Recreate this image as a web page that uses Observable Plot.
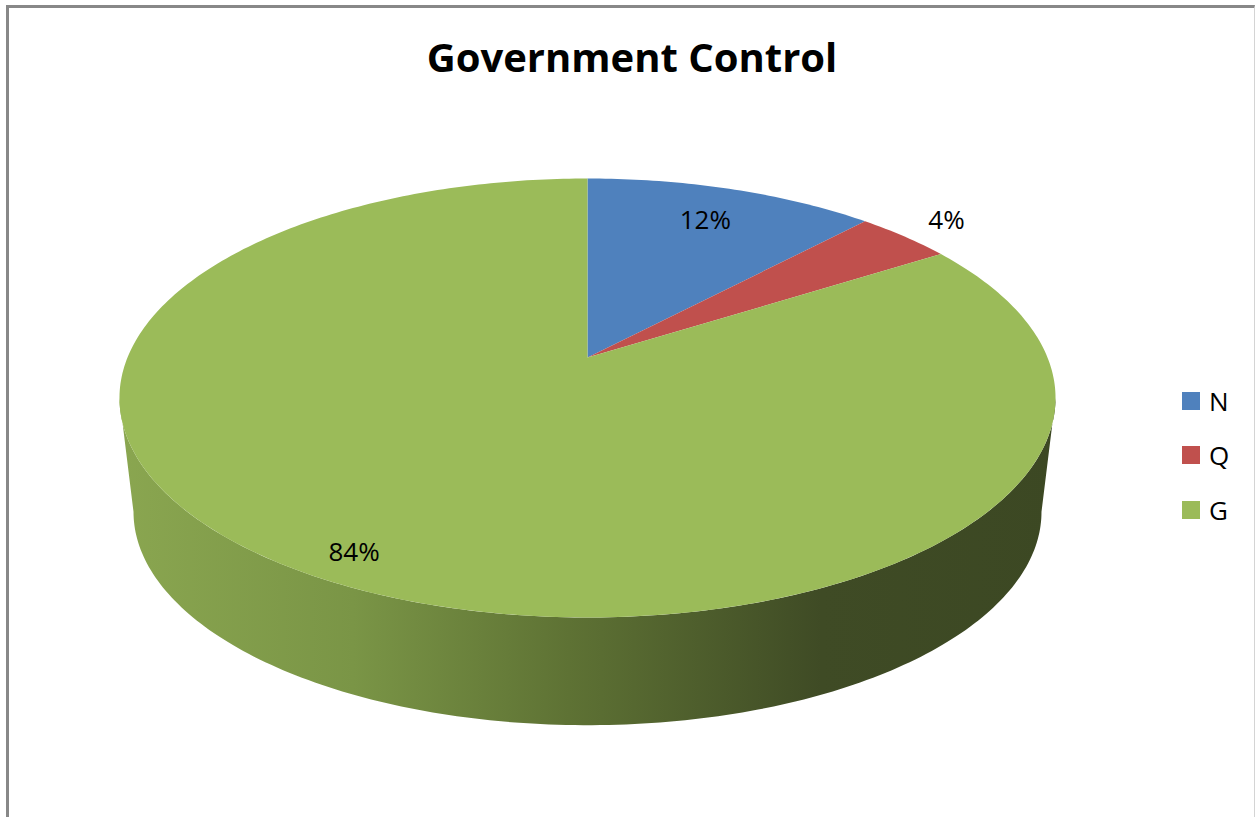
<!DOCTYPE html>
<html>
<head>
<meta charset="utf-8">
<script src="https://cdn.jsdelivr.net/npm/d3@7"></script>
<script src="https://cdn.jsdelivr.net/npm/@observablehq/plot@0.6"></script>
<style>
html, body { margin: 0; padding: 0; background: #fff; overflow: hidden; }
#wrap { position: relative; width: 1255px; height: 817px; overflow: hidden; }
#chart { position: absolute; left: 0; top: 0; }
#frame { position: absolute; left: 6px; top: 5px; width: 1249px; height: 900px; box-sizing: border-box;
  border-top: 3px solid #888; border-left: 3px solid #888; border-right: 1px solid #d4d4d4; pointer-events: none; }
#title { position: absolute; left: 0; width: 1264px; top: 37px; text-align: center;
  font-family: "Open Sans", sans-serif; font-weight: bold; font-size: 40px; line-height: 40px; color: #000; }
.leg { position: absolute; left: 1182px; height: 18px; display: flex; align-items: center;
  font-family: "Open Sans", sans-serif; font-size: 26px; line-height: 18px; color: #000; }
.leg .sw { width: 18px; height: 18px; margin-right: 9px; }
</style>
</head>
<body>
<div id="wrap">
  <div id="chart"></div>
  <div id="title"></div>
  <div id="legend"></div>
  <div id="frame"></div>
</div>
<script>
// ---- data ----
const title = "Government Control";
const categories = ["N", "Q", "G"];
const values = [12, 4, 84];
const labels = ["12%", "4%", "84%"];
// ---- style / layout ----
const colors = ["#4f81bd", "#c0504d", "#9bbb59"];
const labelRadius = [0.79, 1.15, 0.90];
const legendTops = [392, 446, 501];

// perspective of the tilted pie
const LAMBDA = 0.1845;
const BOTTOM = { sx: 0.97, sy: 0.972, dy: -0.5425 };
function proj(theta, r = 1, b = null) {
  const X = r * Math.sin(theta), Y = r * Math.cos(theta);
  const w = 1 + LAMBDA * Y;
  let u = X / w, v = Y / w;
  if (b) { u = b.sx * u; v = b.dy + b.sy * v; }
  return { u, v };
}
function arc(a0, a1, b = null) {
  const n = Math.max(2, Math.ceil(Math.abs(a1 - a0) / (2 * Math.PI) * 400));
  const pts = [];
  for (let i = 0; i <= n; i++) pts.push(proj(a0 + (a1 - a0) * i / n, 1, b));
  return pts;
}

const table = categories.map((c, i) => ({ key: c, value: values[i], label: labels[i] }));
const arcs = d3.pie().sort(null).value(d => d.value).startAngle(0).endAngle(2 * Math.PI)(table);

// top slices
const slicePts = [];
arcs.forEach(a => {
  slicePts.push({ key: a.data.key, ...proj(0, 0) });
  arc(a.startAngle, a.endAngle).forEach(p => slicePts.push({ key: a.data.key, ...p }));
});

// visible side wall (front)
const thR = Math.acos(-LAMBDA), thL = 2 * Math.PI - thR;
const sidePts = [...arc(thR, thL), ...arc(thL, thR, BOTTOM)];

// labels
const labelPts = arcs.map((a, i) => {
  const m = (a.startAngle + a.endAngle) / 2;
  return { label: a.data.label, ...proj(m, labelRadius[i]) };
});

const chart = Plot.plot({
  width: 1255, height: 817,
  marginLeft: 127, marginRight: 208, marginTop: 145, marginBottom: 248,
  x: { domain: [-1, 1], axis: null },
  y: { domain: [-1, 1], axis: null },
  color: { domain: categories, range: colors },
  style: { background: "transparent", overflow: "visible" },
  marks: [
    Plot.line(sidePts, { x: "u", y: "v", fill: "url(#sideGrad)", stroke: "none" }),
    Plot.line(slicePts, { x: "u", y: "v", z: "key", fill: "key", stroke: "none" }),
    Plot.text(labelPts, { x: "u", y: "v", text: "label", fontSize: 26, fontFamily: "Open Sans", fill: "#000" })
  ]
});

const g = d3.select(chart).insert("defs", ":first-child")
  .append("linearGradient").attr("id", "sideGrad")
  .attr("x1", "0").attr("x2", "1").attr("y1", "0").attr("y2", "0");
[[0, "#8aa650"], [0.25, "#7a9546"], [0.48, "#5e7234"], [0.75, "#3f4b25"], [1, "#3c4823"]]
  .forEach(([o, c]) => g.append("stop").attr("offset", o).attr("stop-color", c));

document.getElementById("chart").appendChild(chart);
document.getElementById("title").textContent = title;

const leg = document.getElementById("legend");
categories.forEach((c, i) => {
  const row = document.createElement("div");
  row.className = "leg";
  row.style.top = legendTops[i] + "px";
  const sw = document.createElement("div");
  sw.className = "sw";
  sw.style.background = colors[i];
  const t = document.createElement("span");
  t.textContent = c;
  row.appendChild(sw); row.appendChild(t);
  leg.appendChild(row);
});
</script>
</body>
</html>
